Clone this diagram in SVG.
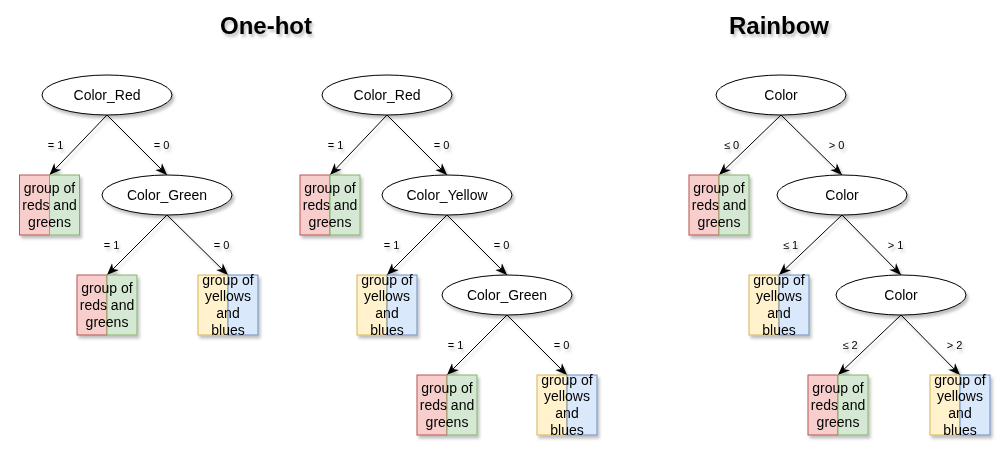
<svg xmlns="http://www.w3.org/2000/svg" width="1005" height="450" viewBox="0 0 1005 450">
<defs>
<filter id="sh" x="-20%" y="-20%" width="150%" height="160%">
<feDropShadow dx="2" dy="3" stdDeviation="1.5" flood-color="#000" flood-opacity="0.25"/>
</filter>
<marker id="arr" markerUnits="userSpaceOnUse" markerWidth="12" markerHeight="12" viewBox="0 0 10 10" refX="10" refY="5" orient="auto">
<path d="M0,1 L10,5 L0,9 L3,5 z" fill="#000"/>
</marker>
</defs>
<style>
.title{font-family:"Liberation Sans",Arial,sans-serif;font-size:24px;font-weight:bold;fill:#000;text-anchor:middle}
.node{fill:#fff;stroke:#000;stroke-width:1}
.nt{font-family:"Liberation Sans",Arial,sans-serif;font-size:14px;fill:#000;text-anchor:middle}
.lbl{font-family:"Liberation Sans",Arial,sans-serif;font-size:11px;fill:#000;text-anchor:middle}
.red{fill:#f8cecc;stroke:#b85450}
.green{fill:#d5e8d4;stroke:#82b366}
.yel{fill:#fff2cc;stroke:#d6b656}
.blue{fill:#dae8fc;stroke:#6c8ebf}
.edge{stroke:#000;stroke-width:1;fill:none;marker-end:url(#arr)}
.s{filter:url(#sh)}
</style>
<rect width="1005" height="450" fill="#fff"/>
<g id="titles" class="s">
<text class="title" x="266" y="34">One-hot</text>
<text class="title" x="779" y="34">Rainbow</text>
</g>
<g id="connectors" class="s">
<line class="edge" x1="107" y1="115" x2="49.5" y2="175"/>
<line class="edge" x1="107" y1="115" x2="167" y2="175"/>
<line class="edge" x1="167" y1="215" x2="107" y2="275"/>
<line class="edge" x1="167" y1="215" x2="228" y2="275"/>
<line class="edge" x1="387" y1="115" x2="330" y2="175"/>
<line class="edge" x1="387" y1="115" x2="447" y2="175"/>
<line class="edge" x1="447" y1="215" x2="387" y2="275"/>
<line class="edge" x1="447" y1="215" x2="507" y2="275"/>
<line class="edge" x1="507" y1="315" x2="447" y2="375"/>
<line class="edge" x1="507" y1="315" x2="567" y2="375"/>
<line class="edge" x1="781" y1="115" x2="719" y2="175"/>
<line class="edge" x1="781" y1="115" x2="842" y2="175"/>
<line class="edge" x1="842" y1="215" x2="779" y2="275"/>
<line class="edge" x1="842" y1="215" x2="901" y2="275"/>
<line class="edge" x1="901" y1="315" x2="838" y2="375"/>
<line class="edge" x1="901" y1="315" x2="960" y2="375"/>
</g>
<g id="labels" class="s">
<text class="lbl" x="55.5" y="149">= 1</text>
<text class="lbl" x="161.5" y="149">= 0</text>
<text class="lbl" x="111.5" y="249">= 1</text>
<text class="lbl" x="221.5" y="249">= 0</text>
<text class="lbl" x="335.5" y="149">= 1</text>
<text class="lbl" x="441.5" y="149">= 0</text>
<text class="lbl" x="391.5" y="249">= 1</text>
<text class="lbl" x="501.5" y="249">= 0</text>
<text class="lbl" x="455.5" y="349">= 1</text>
<text class="lbl" x="561.5" y="349">= 0</text>
<text class="lbl" x="731.5" y="149">≤ 0</text>
<text class="lbl" x="836.5" y="149">&gt; 0</text>
<text class="lbl" x="790.5" y="249">≤ 1</text>
<text class="lbl" x="895.5" y="249">&gt; 1</text>
<text class="lbl" x="850" y="349">≤ 2</text>
<text class="lbl" x="954.5" y="349">&gt; 2</text>
</g>
<g id="t1-root" class="s"><ellipse class="node" cx="107" cy="95" rx="65" ry="20"/><text class="nt" x="107" y="100">Color_Red</text></g>
<g id="t1-green" class="s"><ellipse class="node" cx="167" cy="195" rx="65" ry="20"/><text class="nt" x="167" y="200">Color_Green</text></g>
<g id="t1-leaf1" class="s"><rect class="red" x="19.5" y="175" width="30" height="60"/><rect class="green" x="49.5" y="175" width="30" height="60"/><text class="nt"><tspan x="49.5" y="193">group of</tspan><tspan x="49.5" y="210">reds and</tspan><tspan x="49.5" y="227">greens</tspan></text></g>
<g id="t1-leaf2" class="s"><rect class="red" x="77" y="275" width="30" height="60"/><rect class="green" x="107" y="275" width="30" height="60"/><text class="nt"><tspan x="107" y="293">group of</tspan><tspan x="107" y="310">reds and</tspan><tspan x="107" y="327">greens</tspan></text></g>
<g id="t1-leaf3" class="s"><rect class="yel" x="198" y="275" width="30" height="60"/><rect class="blue" x="228" y="275" width="30" height="60"/><text class="nt"><tspan x="228" y="284.5">group of</tspan><tspan x="228" y="301">yellows</tspan><tspan x="228" y="318">and</tspan><tspan x="228" y="334.5">blues</tspan></text></g>
<g id="t2-root" class="s"><ellipse class="node" cx="387" cy="95" rx="65" ry="20"/><text class="nt" x="387" y="100">Color_Red</text></g>
<g id="t2-yellow" class="s"><ellipse class="node" cx="447" cy="195" rx="65" ry="20"/><text class="nt" x="447" y="200">Color_Yellow</text></g>
<g id="t2-green" class="s"><ellipse class="node" cx="507" cy="295" rx="65" ry="20"/><text class="nt" x="507" y="300">Color_Green</text></g>
<g id="t2-leaf1" class="s"><rect class="red" x="300" y="175" width="30" height="60"/><rect class="green" x="330" y="175" width="30" height="60"/><text class="nt"><tspan x="330" y="193">group of</tspan><tspan x="330" y="210">reds and</tspan><tspan x="330" y="227">greens</tspan></text></g>
<g id="t2-leaf2" class="s"><rect class="yel" x="357" y="275" width="30" height="60"/><rect class="blue" x="387" y="275" width="30" height="60"/><text class="nt"><tspan x="387" y="284.5">group of</tspan><tspan x="387" y="301">yellows</tspan><tspan x="387" y="318">and</tspan><tspan x="387" y="334.5">blues</tspan></text></g>
<g id="t2-leaf3" class="s"><rect class="red" x="417" y="375" width="30" height="60"/><rect class="green" x="447" y="375" width="30" height="60"/><text class="nt"><tspan x="447" y="393">group of</tspan><tspan x="447" y="410">reds and</tspan><tspan x="447" y="427">greens</tspan></text></g>
<g id="t2-leaf4" class="s"><rect class="yel" x="537" y="375" width="30" height="60"/><rect class="blue" x="567" y="375" width="30" height="60"/><text class="nt"><tspan x="567" y="384.5">group of</tspan><tspan x="567" y="401">yellows</tspan><tspan x="567" y="418">and</tspan><tspan x="567" y="434.5">blues</tspan></text></g>
<g id="t3-root" class="s"><ellipse class="node" cx="781" cy="95" rx="65" ry="20"/><text class="nt" x="781" y="100">Color</text></g>
<g id="t3-c1" class="s"><ellipse class="node" cx="842" cy="195" rx="65" ry="20"/><text class="nt" x="842" y="200">Color</text></g>
<g id="t3-c2" class="s"><ellipse class="node" cx="901" cy="295" rx="65" ry="20"/><text class="nt" x="901" y="300">Color</text></g>
<g id="t3-leaf1" class="s"><rect class="red" x="689" y="175" width="30" height="60"/><rect class="green" x="719" y="175" width="30" height="60"/><text class="nt"><tspan x="719" y="193">group of</tspan><tspan x="719" y="210">reds and</tspan><tspan x="719" y="227">greens</tspan></text></g>
<g id="t3-leaf2" class="s"><rect class="yel" x="749" y="275" width="30" height="60"/><rect class="blue" x="779" y="275" width="30" height="60"/><text class="nt"><tspan x="779" y="284.5">group of</tspan><tspan x="779" y="301">yellows</tspan><tspan x="779" y="318">and</tspan><tspan x="779" y="334.5">blues</tspan></text></g>
<g id="t3-leaf3" class="s"><rect class="red" x="808" y="375" width="30" height="60"/><rect class="green" x="838" y="375" width="30" height="60"/><text class="nt"><tspan x="838" y="393">group of</tspan><tspan x="838" y="410">reds and</tspan><tspan x="838" y="427">greens</tspan></text></g>
<g id="t3-leaf4" class="s"><rect class="yel" x="930" y="375" width="30" height="60"/><rect class="blue" x="960" y="375" width="30" height="60"/><text class="nt"><tspan x="960" y="384.5">group of</tspan><tspan x="960" y="401">yellows</tspan><tspan x="960" y="418">and</tspan><tspan x="960" y="434.5">blues</tspan></text></g>
</svg>
